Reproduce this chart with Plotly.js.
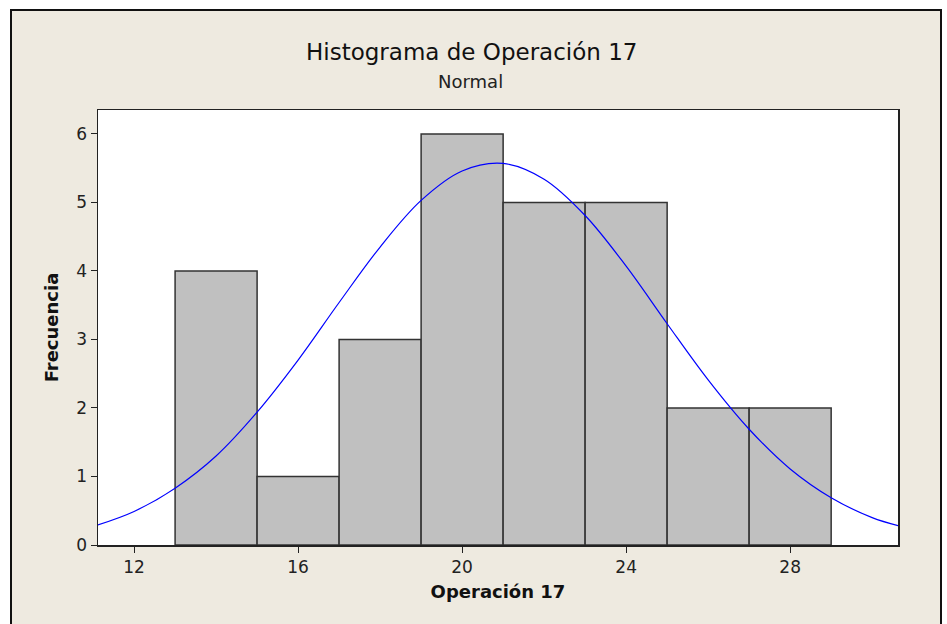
<!DOCTYPE html>
<html>
<head>
<meta charset="utf-8">
<script src="https://cdn.plot.ly/plotly-3.0.1.min.js"></script>
<style>
  html, body { margin: 0; padding: 0; background: #ffffff; width: 947px; height: 624px; overflow: hidden; }
  #frame { position: absolute; left: 10px; top: 9px; width: 928px; height: 615px;
           border-left: 2px solid #111; border-top: 2px solid #111; border-right: 2px solid #111;
           background: #EEEAE0; }
  #chart { width: 928px; height: 615px; }
</style>
</head>
<body>
<div id="frame"><div id="chart"></div></div>
<script>
// Histogram bins (centre, width 2) and counts
const binCenters = [14, 16, 18, 20, 22, 24, 26, 28];
const counts     = [4, 1, 3, 6, 5, 5, 2, 2];
const binWidth   = 2;

// Fitted normal curve
const curveX = [11.1, 12, 13, 14, 15, 16, 17, 18, 19, 20, 21, 22, 23, 24, 25, 26, 27, 28, 29, 30, 30.65];
const curveY = [0.29, 0.49, 0.83, 1.30, 1.94, 2.70, 3.54, 4.35, 5.03, 5.46, 5.57, 5.34, 4.81, 4.07, 3.23, 2.41, 1.69, 1.11, 0.69, 0.40, 0.28];

const xTicks = [12, 16, 20, 24, 28];
const yTicks = [0, 1, 2, 3, 4, 5, 6];

const FONT = "DejaVu Sans, Verdana, sans-serif";

const traces = [
  {
    type: 'bar',
    x: binCenters,
    y: counts,
    width: binCenters.map(() => binWidth),
    marker: { color: '#C0C0C0', line: { color: '#333333', width: 1.5 } },
    hoverinfo: 'x+y',
    showlegend: false
  },
  {
    type: 'scatter',
    mode: 'lines',
    x: curveX,
    y: curveY,
    line: { color: '#0000FF', width: 1.2, shape: 'spline', smoothing: 1 },
    showlegend: false,
    hoverinfo: 'skip'
  }
];

const layout = {
  width: 928,
  height: 615,
  margin: { l: 86, r: 42, t: 99, b: 81 },
  paper_bgcolor: '#EEEAE0',
  plot_bgcolor: '#FFFFFF',
  font: { family: FONT, size: 17, color: '#1a1a1a' },
  bargap: 0,
  xaxis: {
    range: [11.12, 30.63],
    tickvals: xTicks,
    ticktext: xTicks.map(String),
    ticks: 'outside', ticklen: 6, tickwidth: 1, tickcolor: '#222',
    showline: true, linecolor: '#222', linewidth: 1.5, mirror: true,
    showgrid: false, zeroline: false,
    tickfont: { family: FONT, size: 17, color: '#222' },
    title: { text: 'Operación 17', font: { family: FONT, size: 18, color: '#111', weight: 'bold' }, standoff: 9 }
  },
  yaxis: {
    range: [0, 6.35],
    tickvals: yTicks,
    ticktext: yTicks.map(String),
    ticks: 'outside', ticklen: 6, tickwidth: 1, tickcolor: '#222',
    showline: true, linecolor: '#222', linewidth: 1.5, mirror: true,
    showgrid: false, zeroline: false,
    tickfont: { family: FONT, size: 17, color: '#222' },
    title: { text: 'Frecuencia', font: { family: FONT, size: 18, color: '#111', weight: 'bold' }, standoff: 13 }
  },
  annotations: [
    { text: 'Histograma de Operación 17', xref: 'paper', yref: 'paper', x: 0.467, y: 1 + 58/435,
      xanchor: 'center', yanchor: 'middle', showarrow: false,
      font: { family: FONT, size: 23, color: '#111' } },
    { text: 'Normal', xref: 'paper', yref: 'paper', x: 0.466, y: 1 + 29/435,
      xanchor: 'center', yanchor: 'middle', showarrow: false,
      font: { family: FONT, size: 18, color: '#222' } }
  ]
};

Plotly.newPlot('chart', traces, layout, { displayModeBar: false, staticPlot: true });
</script>
</body>
</html>
